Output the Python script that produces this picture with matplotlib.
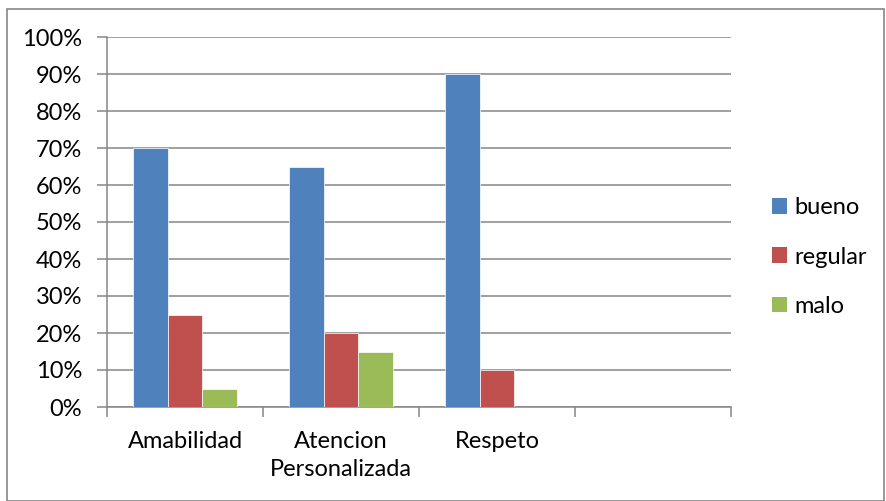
import matplotlib
matplotlib.use("Agg")
import matplotlib.pyplot as plt
import numpy as np
from matplotlib.patches import Rectangle, Patch

categories = ["Amabilidad", "Atencion\nPersonalizada", "Respeto", ""]
series_names = ["bueno", "regular", "malo"]
bueno = [70, 65, 90, 0]
regular = [25, 20, 10, 0]
malo = [5, 15, 0, 0]
y_ticks = [0, 10, 20, 30, 40, 50, 60, 70, 80, 90, 100]
y_tick_labels = [f"{v}%" for v in y_ticks]

colors = ["#4F81BD", "#C0504D", "#9BBB59"]
grid_col = "#868686"
fs = 17

plt.rcParams["font.family"] = ["Lato", "DejaVu Sans"]

fig = plt.figure(figsize=(8.87, 5.01), dpi=100)
W, H = 887, 501
ax = fig.add_axes([107 / W, (H - 407) / H, (731 - 107) / W, (407 - 37) / H])

x = np.arange(len(categories))
bw = 0.222
for i, (vals, col) in enumerate(zip([bueno, regular, malo], colors)):
    ax.bar(x - 0.5 + 0.167 + bw * (i + 0.5), vals, width=bw, color=col,
           edgecolor="white", linewidth=0.5, zorder=3)

ax.set_xlim(-0.5, len(categories) - 0.5)
ax.set_ylim(0, 100)
ax.set_yticks(y_ticks)
ax.set_yticklabels(y_tick_labels, fontsize=fs)
ax.yaxis.grid(True, color=grid_col, linewidth=1.1, zorder=0)
ax.set_axisbelow(True)

# category labels centred, separator ticks between categories
ax.set_xticks(x)
ax.set_xticklabels(categories, fontsize=fs, linespacing=1.45)
ax.tick_params(axis="x", which="major", length=0, pad=17)
ax.set_xticks(np.arange(len(categories) + 1) - 0.5, minor=True)
ax.tick_params(axis="x", which="minor", length=7, color=grid_col, width=1.1, direction="out")
ax.tick_params(axis="y", length=7, color=grid_col, width=1.1, pad=11)

for s in ["top", "right"]:
    ax.spines[s].set_visible(False)
for s in ["left", "bottom"]:
    ax.spines[s].set_color(grid_col)
    ax.spines[s].set_linewidth(1.1)

handles = [Patch(facecolor=c, edgecolor="none") for c in colors]
fig.legend(handles, series_names, loc="center left",
           bbox_to_anchor=(772 / W, 1 - 257 / H), frameon=False,
           fontsize=fs, handlelength=0.64, handleheight=0.64,
           handletextpad=0.3, labelspacing=1.2, borderpad=0, borderaxespad=0)

fig.patches.append(Rectangle((7.5 / W, 0), (884 - 7.5) / W, (H - 8.5) / H,
                             transform=fig.transFigure, fill=False,
                             edgecolor=grid_col, linewidth=1.2))

fig.savefig("out.png", dpi=100)
